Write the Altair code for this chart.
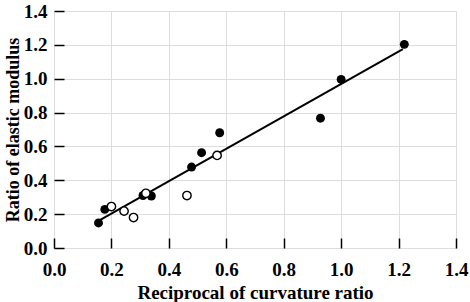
import altair as alt
import pandas as pd

filled_x = [0.155, 0.177, 0.310, 0.339, 0.479, 0.514, 0.577, 0.928, 1.000, 1.220]
filled_y = [0.148, 0.228, 0.310, 0.307, 0.478, 0.563, 0.681, 0.767, 0.996, 1.203]
open_x = [0.200, 0.244, 0.277, 0.320, 0.463, 0.568]
open_y = [0.245, 0.218, 0.180, 0.323, 0.310, 0.547]
fit_x = [0.155, 1.215]
fit_y = [0.160, 1.175]

FONT = "Liberation Serif"
ticks = [0, 0.2, 0.4, 0.6, 0.8, 1.0, 1.2, 1.4]

df = pd.concat([
    pd.DataFrame({"x": filled_x, "y": filled_y, "kind": "filled"}),
    pd.DataFrame({"x": open_x, "y": open_y, "kind": "open"}),
    pd.DataFrame({"x": fit_x, "y": fit_y, "kind": "fit"}),
], ignore_index=True)

xaxis = alt.Axis(values=ticks, format=".1f", title="Reciprocal of curvature ratio",
                 domain=False, offset=-10, tickSize=10, tickColor="black", tickWidth=1.5,
                 labelPadding=12, labelFont=FONT, labelFontSize=19, labelFontWeight="bold",
                 labelColor="black", titleFont=FONT, titleFontSize=19, titleFontWeight="bold",
                 titleColor="black", titlePadding=4, labelFlush=False, labelOverlap=False)
yaxis = alt.Axis(values=ticks, format=".1f", title="Ratio of elastic modulus",
                 domain=False, offset=-10, tickSize=10, tickColor="black", tickWidth=1.5,
                 labelPadding=7, labelFont=FONT, labelFontSize=19, labelFontWeight="bold",
                 labelColor="black", titleFont=FONT, titleFontSize=18, titleFontWeight="bold",
                 titleColor="black", titlePadding=1, labelFlush=False, labelOverlap=False)

base = alt.Chart(df)
line = base.mark_line(color="black", strokeWidth=2).transform_filter(alt.datum.kind == "fit")
filled = base.mark_circle(color="black", size=80, opacity=1).transform_filter(alt.datum.kind == "filled")
opened = base.mark_point(shape="circle", filled=False, fill="white", fillOpacity=1,
                         stroke="black", strokeWidth=1.4, size=70, opacity=1).transform_filter(
    alt.datum.kind == "open")

chart = alt.layer(line, filled, opened).encode(
    x=alt.X("x:Q", scale=alt.Scale(domain=[0, 1.4], nice=False), axis=xaxis),
    y=alt.Y("y:Q", scale=alt.Scale(domain=[0, 1.4], nice=False), axis=yaxis),
).properties(
    width=402, height=237,
    autosize=alt.AutoSizeParams(type="none"),
    padding={"left": 54, "top": 11, "right": 14, "bottom": 54},
).configure_view(stroke="black", strokeWidth=2).configure(background="white")

chart.save("out.html", embed_options={"renderer": "svg", "actions": False})
